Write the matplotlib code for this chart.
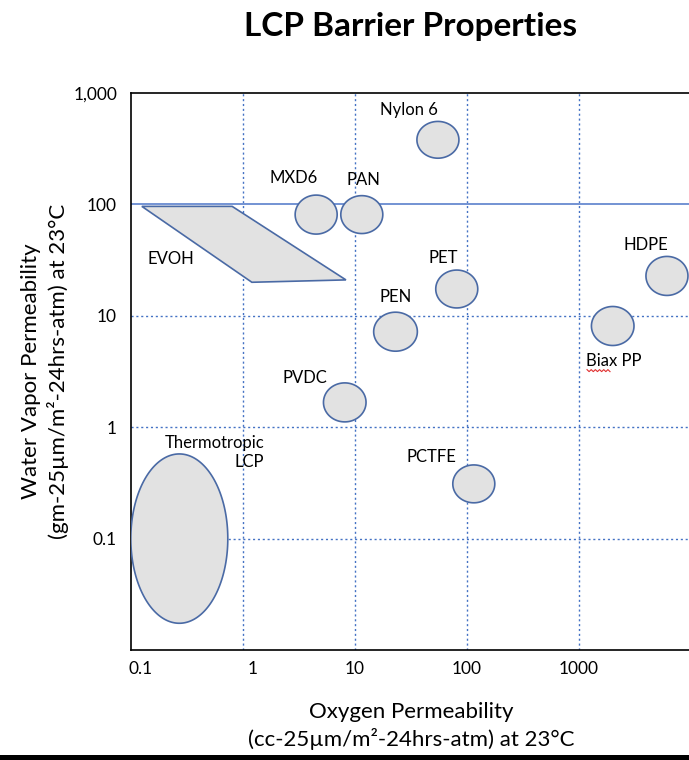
import numpy as np
import matplotlib
matplotlib.use("Agg")
import matplotlib.pyplot as plt
import matplotlib.transforms as mtrans
from matplotlib.patches import Polygon, Rectangle

plt.rcParams['font.family'] = ['Lato', 'DejaVu Sans']

# ---- data ----
materials = ["Nylon 6", "MXD6", "PAN", "PET", "PEN", "HDPE", "Biax PP", "PVDC", "PCTFE", "Thermotropic\nLCP"]
o2_center = [55, 4.5, 11.5, 81, 23, 6100, 2000, 8.1, 115, 0.27]
wv_center = [380, 81, 81, 17.4, 7.2, 22.8, 8.1, 1.67, 0.31, 0.1]
o2_span_dec = [0.375, 0.375, 0.375, 0.375, 0.39, 0.375, 0.38, 0.38, 0.375, 0.866]
wv_span_dec = [0.33, 0.35, 0.34, 0.34, 0.35, 0.35, 0.35, 0.35, 0.34, 1.52]

evoh_o2 = [0.125, 0.80, 8.3, 1.2]
evoh_wv = [96, 96, 21, 20]

label_o2 = [30.4, 2.85, 12.0, 61, 23.2, 3960, 2054, 3.58, 47.7, 1.54]
label_wv = [705, 174, 167, 33, 14.8, 43, 3.96, 2.74, 0.54, 0.59]
evoh_label = (0.228, 32.3)

x_ticks = [0.1, 1, 10, 100, 1000]
x_ticklabels = ["0.1", "1", "10", "100", "1000"]
y_ticks = [0.1, 1, 10, 100, 1000]
y_ticklabels = ["0.1", "1", "10", "100", "1,000"]

# ---- style ----
fill = "#e2e2e2"
edge = "#4a6aa5"
grid_c = "#4472c4"

fig = plt.figure(figsize=(6.89, 7.60), dpi=100)
ax = fig.add_axes([131/689, 110/760, 560/689, 557/760])
ax.set_xscale('log')
ax.set_yscale('log')
ax.set_xlim(0.1, 10000)
ax.set_ylim(0.01, 1000)

# grid lines
for xv in [1, 10, 100, 1000]:
    ax.axvline(xv, color=grid_c, lw=1.0, ls=(0, (1.5, 2)), zorder=1)
for yv in [0.1, 1, 10]:
    ax.axhline(yv, color=grid_c, lw=1.0, ls=(0, (1.5, 2)), zorder=1)
ax.axhline(100, color="#7393d3", lw=1.4, ls='-', zorder=1)

# ellipses (drawn in log space)
t = np.linspace(0, 2*np.pi, 200)
for cx, cy, sx, sy in zip(o2_center, wv_center, o2_span_dec, wv_span_dec):
    xs = 10**(np.log10(cx) + sx/2*np.cos(t))
    ys = 10**(np.log10(cy) + sy/2*np.sin(t))
    ax.add_patch(Polygon(np.column_stack([xs, ys]), closed=True,
                         facecolor=fill, edgecolor=edge, lw=1.2, zorder=3))

# EVOH parallelogram
ax.add_patch(Polygon(np.column_stack([evoh_o2, evoh_wv]), closed=True,
                     facecolor=fill, edgecolor=edge, lw=1.2, zorder=3))

# labels
fs_lab = 12
for name, lx, ly in zip(materials, label_o2, label_wv):
    if name.startswith("Thermotropic"):
        ax.text(lx, ly, name, ha='right', va='center', fontsize=fs_lab,
                multialignment='right', linespacing=1.2, zorder=5)
    else:
        ax.text(lx, ly, name, ha='center', va='center', fontsize=fs_lab, zorder=5)
ax.text(evoh_label[0], evoh_label[1], "EVOH", ha='center', va='center', fontsize=fs_lab, zorder=5)

# red spell-check squiggle under "Biax"
bi = materials.index("Biax PP")
pts_tr = ax.transData.transform((label_o2[bi], label_wv[bi]))
px = pts_tr[0] + np.linspace(-27, -4, 12)
py = pts_tr[1] + np.where(np.arange(12) % 2 == 0, -9.0, -11.0)
ax.plot(px, py, color='#e03030', lw=0.8, transform=mtrans.IdentityTransform(),
        zorder=6, clip_on=False)

# axes styling
ax.set_xticks(x_ticks)
ax.set_xticklabels(x_ticklabels)
ax.set_yticks(y_ticks)
ax.set_yticklabels(y_ticklabels)
ax.xaxis.set_minor_locator(matplotlib.ticker.NullLocator())
ax.yaxis.set_minor_locator(matplotlib.ticker.NullLocator())
ax.tick_params(axis='both', length=0, labelsize=12.5)
ax.tick_params(axis='x', pad=8)
ax.tick_params(axis='y', pad=10)
# first two x labels sit a little right of their gridlines in the reference
shift = mtrans.ScaledTranslation(10/100, 0, fig.dpi_scale_trans)
for lab in ax.get_xticklabels()[:2]:
    lab.set_transform(lab.get_transform() + shift)

for s in ['left', 'bottom', 'top']:
    ax.spines[s].set_color('black')
    ax.spines[s].set_linewidth(1.2)
ax.spines['right'].set_visible(False)

ax.set_title("LCP Barrier Properties", fontsize=24, fontweight='bold', pad=41)
ax.set_xlabel("Oxygen Permeability\n(cc-25µm/m²-24hrs-atm) at 23°C", fontsize=16,
              labelpad=18, linespacing=1.35)
ax.set_ylabel("Water Vapor Permeability\n(gm-25µm/m²-24hrs-atm) at 23°C", fontsize=16,
              labelpad=3, linespacing=1.35)

# bottom black band
fig.patches.append(Rectangle((0, 0), 1, 5/760, transform=fig.transFigure,
                             facecolor='black', edgecolor='none'))

fig.savefig("out.png", dpi=100)
